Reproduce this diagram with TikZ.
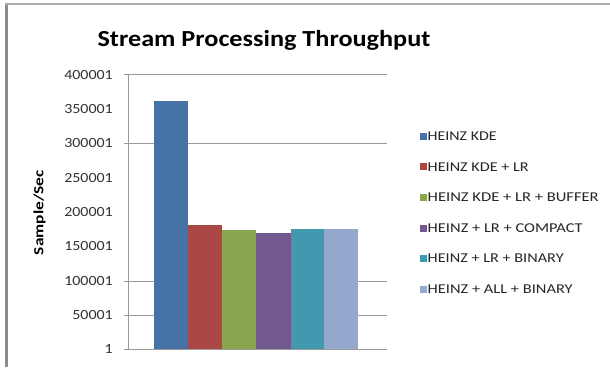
\documentclass[tikz,border=0pt]{standalone}
\usepackage{fontspec}
\usepackage{graphicx}
\setmainfont{Carlito}[FakeStretch=1.14]
\definecolor{frameGray}{HTML}{8C8C8C}
\definecolor{gridGray}{HTML}{9A9A9A}
\definecolor{barA}{RGB}{70,114,166}
\definecolor{barB}{RGB}{170,72,69}
\definecolor{barC}{RGB}{137,165,78}
\definecolor{barD}{RGB}{113,88,142}
\definecolor{barE}{RGB}{66,152,174}
\definecolor{barF}{RGB}{149,168,206}
\begin{document}
\begin{tikzpicture}[x=1pt,y=-1pt,
  gridline/.style={draw=gridGray,line width=1pt},
  tick/.style={anchor=base east,font=\fontsize{14}{16}\selectfont,text=black!80,inner sep=0pt},
  legtext/.style={anchor=base west,font=\fontsize{13.5}{15}\selectfont,text=black!85,inner sep=0pt},
  legkey/.style={minimum size=7pt,inner sep=0pt}]
\useasboundingbox (0,0) rectangle (610,367);
\fill[white] (0,0) rectangle (610,367);
% outer chart frame (left and top edges)
\draw[frameGray,line width=2.5pt] (6.3,3.5) -- (6.3,367);
\draw[gridGray!80,line width=1.4pt] (5,4) -- (610,4);
% title
\node[anchor=base,font=\fontsize{23}{26}\selectfont\bfseries,inner sep=0pt] (title) at (264,46.7) {Stream Processing Throughput};
% axis title
\node[rotate=90,font=\fontsize{14}{16}\selectfont\bfseries,inner sep=0pt] (ylab) at (39.5,212.5) {\resizebox{85pt}{\height}{Sample/Sec}};
% gridlines with ticks
\foreach \y in {74.7,143.3,281.7,315.0}{
  \draw[gridline] (124,\y) -- (387,\y);
}
% value axis and category axis
\draw[gridline] (128,74.7) -- (128,349);
\draw[gridline] (124,349) -- (387,349);
% tick labels
\foreach \lab/\y in {400001/74.7,350001/109.0,300001/143.3,250001/177.6,200001/211.9,150001/246.2,100001/280.5,50001/314.8,1/349}{
  \node[tick] at (113,\y+4.5) {\lab};
}
% bars
\fill[barA] (154,349) rectangle (188.3,100.7);
\fill[barB] (188.3,349) rectangle (222,225.3);
\fill[barC] (222,349) rectangle (256,230.3);
\fill[barD] (256,349) rectangle (290.7,232.7);
\fill[barE] (290.7,349) rectangle (324.3,229);
\fill[barF] (324.3,349) rectangle (358.3,229);
% legend
\foreach \c/\t/\w/\y [count=\i] in {barA/HEINZ KDE/69/136,barB/HEINZ KDE + LR/101/166.7,barC/HEINZ KDE + LR + BUFFER/171/197.3,barD/HEINZ + LR + COMPACT/155/228.3,barE/HEINZ + LR + BINARY/136/258.3,barF/HEINZ + ALL + BINARY/145/289.3}{
  \node[legkey,fill=\c] (key\i) at (423,\y) {};
  \node[legtext] (leg\i) at (427.5,\y+4.3) {\resizebox{\w pt}{\height}{\t}};
}
\end{tikzpicture}
\end{document}
